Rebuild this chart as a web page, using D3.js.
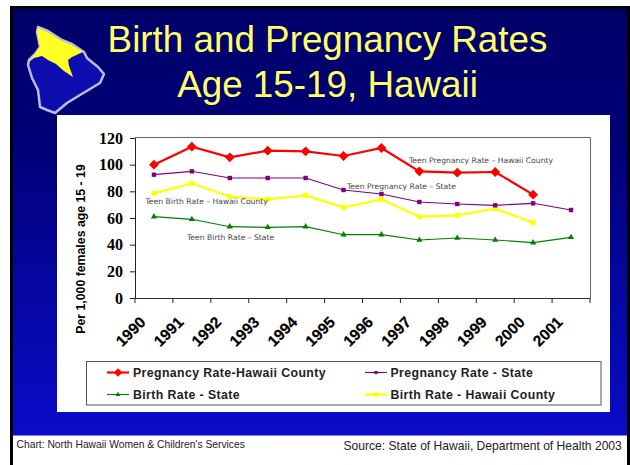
<!DOCTYPE html>
<html><head><meta charset="utf-8">
<script src="https://cdn.jsdelivr.net/npm/d3@7"></script>
<style>html,body{margin:0;padding:0;background:#fff}svg{display:block}</style></head>
<body><svg id="c" width="630" height="465"></svg>
<script>
const years=["1990","1991","1992","1993","1994","1995","1996","1997","1998","1999","2000","2001"];
const pregnancyHawaii=[100,113.5,105.5,110.5,110,106.5,112.5,95,94,94.5,77.5,null];
const pregnancyState=[92.5,95,90,90,90,81,78,72,70.5,69.5,71,66];
const birthHawaii=[78.5,86,76,74,77,68,74,61,62,67,56.5,null];
const birthState=[61,59,53.5,53,53.5,47.5,47.5,43.5,45,43.5,41.5,45.5];
const yTicks=[0,20,40,60,80,100,120];
const titleLines=["Birth and Pregnancy Rates","Age 15-19, Hawaii"];
const seriesNames=["Pregnancy Rate-Hawaii County","Pregnancy Rate - State","Birth Rate - State","Birth Rate - Hawaii County"];
const seriesColors=["#ff0000","#800080","#008000","#ffff00"];
const annotationTexts=["Teen Pregnancy Rate – Hawaii County","Teen Pregnancy Rate – State","Teen Birth Rate – Hawaii County","Teen Birth Rate – State"];

const annotationPos=[[409,163],[347,189],[145.5,204],[187,240]];
const svg=d3.select("#c");
const defs=svg.append("defs");
const g=defs.append("linearGradient").attr("id","bg").attr("x1",0).attr("y1",0).attr("x2",0).attr("y2",1);
g.append("stop").attr("offset",0).attr("stop-color","#00006a");
g.append("stop").attr("offset",.3).attr("stop-color","#000076");
g.append("stop").attr("offset",1).attr("stop-color","#0a0cc8");
defs.append("filter").attr("id","soft").append("feGaussianBlur").attr("stdDeviation",0.6);
svg.append("rect").attr("x",11.5).attr("y",7.5).attr("width",617).attr("height",428).attr("fill","url(#bg)");
svg.append("path").attr("d","M11.5,465V7.5H628.5V465").attr("fill","none").attr("stroke","#000").attr("stroke-width",3);
svg.append("rect").attr("x",57).attr("y",115).attr("width",553).attr("height",297).attr("fill","#fff");

// island emblem
const line0=d3.line().curve(d3.curveLinear);
const island=[[38,27],[48,31],[62,40],[72,44],[84,52],[87,58],[93,63],[98,67],[104,74],[100,83],[90,89],[80,95],[67,103],[55,113],[47,110],[40,107],[38,90],[32,78],[28,65],[29,60],[35,54],[40,47],[37,32]];
const north=[[38,28],[48,32],[62,41],[72,45],[83,52],[72,57],[68,60],[69,66],[73,77],[64,71],[56,64],[48,60],[42,56],[34,58],[29,62],[35,54],[40,47],[37,32]];
const emblem=svg.append("g").attr("filter","url(#soft)");
emblem.append("path").attr("d",line0(island)+"Z").attr("fill","#0c10b0").attr("stroke","#b9bce0").attr("stroke-width",2.5).attr("stroke-linejoin","round");
emblem.append("path").attr("d",line0(north)+"Z").attr("fill","#ffff22");

const tl=svg.append("text").attr("text-anchor","middle").attr("font-family","Liberation Sans").attr("font-size",36.8).attr("fill","#ffff66");
titleLines.forEach((t,i)=>tl.append("tspan").attr("x",327.5).attr("y",52+i*45).text(t));

const x=d3.scaleBand().domain(years).range([135,590]);
const y=d3.scaleLinear().domain([0,120]).range([298,138]);
const cx=d=>x(d)+x.bandwidth()/2;

svg.append("path").attr("d",`M135,137.5H590.5V298`).attr("stroke","#666").attr("fill","none");

const ay=svg.append("g").attr("transform","translate(135,0)").call(d3.axisLeft(y).tickValues(yTicks).tickSize(5).tickPadding(7));
ay.selectAll("text").attr("font-family","Liberation Serif").attr("font-weight","bold").attr("font-size",16).attr("fill","#000");
ay.selectAll("line,path").attr("stroke","#222");
const ax=svg.append("g").attr("transform","translate(0,298)").call(d3.axisBottom(x).tickSize(0).tickFormat(""));
ax.select("path").attr("stroke","#333");
ax.selectAll("line").remove();
const tk=[...years.map(d=>x(d)),590];
svg.append("g").selectAll("line").data(tk).join("line").attr("x1",d=>d).attr("x2",d=>d).attr("y1",298).attr("y2",303).attr("stroke","#222");
svg.append("g").selectAll("text").data(years).join("text")
 .attr("transform",d=>`translate(${cx(d)-23.4},331.5) rotate(-45)`).attr("text-anchor","middle").attr("dy","0.35em")
 .attr("font-family","Liberation Sans").attr("font-weight","bold").attr("font-size",15.5).attr("stroke","#000").attr("stroke-width",.2).attr("fill","#000").text(d=>d);

svg.append("text").attr("transform","translate(85,249) rotate(-90)").attr("text-anchor","middle")
 .attr("font-family","Liberation Sans").attr("font-weight","bold").attr("font-size",12.3).attr("fill","#000").text("Per 1,000 females age 15 - 19");

const line=d3.line().defined(d=>d.v!=null).x(d=>cx(d.y)).y(d=>y(d.v));
const datasets=[birthState,birthHawaii,pregnancyState,pregnancyHawaii];
const idx=[2,3,1,0];
const widths={0:2.2,1:1.1,2:1.1,3:2.2};
function marker(sel,k,s){
  const c=seriesColors[k];
  if(k===0) sel.attr("d",d3.symbol(d3.symbolSquare,s*s)).attr("transform",function(){return (d3.select(this).attr("transform")||"")+" rotate(45)";});
  if(k===1||k===3) sel.attr("d",d3.symbol(d3.symbolSquare,s*s));
  if(k===2) sel.attr("d",d3.symbol(d3.symbolTriangle,s*s*.55));
  sel.attr("fill",c);
}
datasets.forEach((arr,i)=>{
  const k=idx[i];
  const pts=arr.map((v,j)=>({y:years[j],v}));
  svg.append("path").attr("d",line(pts)).attr("fill","none").attr("stroke",seriesColors[k]).attr("stroke-width",widths[k]);
  const m=svg.append("g").selectAll("path").data(pts.filter(d=>d.v!=null)).join("path")
    .attr("transform",d=>`translate(${cx(d.y)},${y(d.v)})`);
  marker(m,k,{0:7,1:4.4,2:5.5,3:5}[k]);
});

svg.append("g").selectAll("text").data(annotationTexts).join("text")
 .attr("x",(d,i)=>annotationPos[i][0]).attr("y",(d,i)=>annotationPos[i][1]).attr("font-family","DejaVu Sans").attr("font-size",7.65).attr("fill","#444").text(d=>d);

svg.append("rect").attr("x",86.5).attr("y",361.5).attr("width",514.5).attr("height",43.5).attr("fill","none").attr("stroke","#555");
const lx=[{a:107,b:129,t:133,y:372.5},{a:365,b:387,t:390.5,y:372.5},{a:107,b:129,t:133,y:394.5},{a:365,b:387,t:390.5,y:394.5}];
lx.forEach((p,k)=>{
  svg.append("line").attr("x1",p.a).attr("x2",p.b).attr("y1",p.y).attr("y2",p.y).attr("stroke",seriesColors[k]).attr("stroke-width",widths[k]);
  const m=svg.append("path").attr("transform",`translate(${(p.a+p.b)/2},${p.y})`);
  marker(m,k,{0:6,1:3.2,2:4.4,3:4.2}[k]);
  svg.append("text").attr("x",p.t).attr("y",p.y+4.5).attr("font-family","Liberation Sans").attr("font-weight","bold").attr("font-size",12.3).attr("letter-spacing",.4).attr("fill","#222").text(seriesNames[k]);
});

svg.append("text").attr("x",16.5).attr("y",448).attr("font-family","Liberation Sans").attr("font-size",10.3).attr("fill","#222").text("Chart: North Hawaii Women & Children's Services");
svg.append("text").attr("x",343.5).attr("y",450).attr("font-family","Liberation Sans").attr("font-size",12.1).attr("fill","#222").text("Source:  State of Hawaii, Department of Health 2003");
</script></body></html>
